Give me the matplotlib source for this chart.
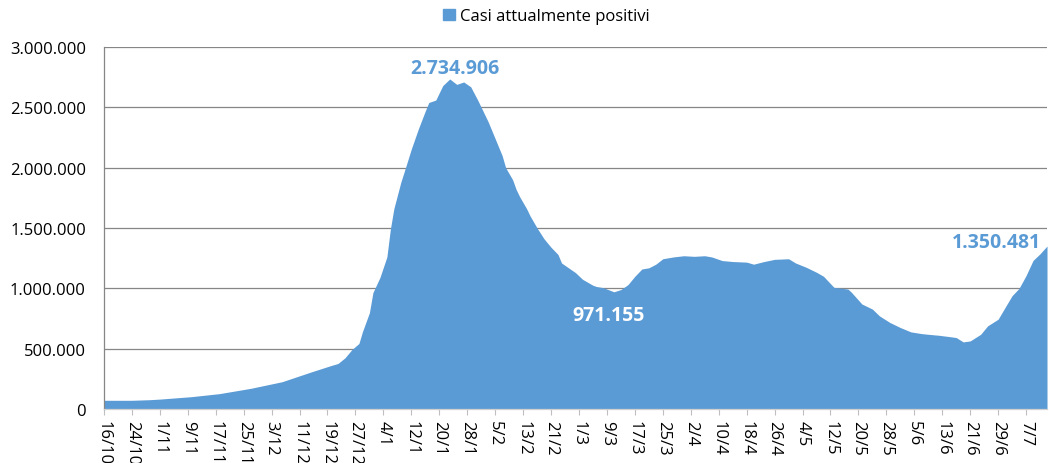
import matplotlib
matplotlib.use("Agg")
import matplotlib.pyplot as plt
from matplotlib.patches import Patch
from matplotlib.ticker import FuncFormatter
import pandas as pd

# casi attualmente positivi
date_lette = [
    "2021-10-16", "2021-10-24", "2021-10-29", "2021-11-01", "2021-11-10",
    "2021-11-18", "2021-11-27", "2021-12-06", "2021-12-14", "2021-12-20",
    "2021-12-22", "2021-12-24", "2021-12-26", "2021-12-28", "2021-12-29",
    "2021-12-31", "2022-01-01", "2022-01-03", "2022-01-05", "2022-01-06",
    "2022-01-07", "2022-01-09", "2022-01-10", "2022-01-12", "2022-01-14",
    "2022-01-16", "2022-01-17", "2022-01-19", "2022-01-21", "2022-01-23",
    "2022-01-25", "2022-01-27", "2022-01-29", "2022-01-31", "2022-02-03",
    "2022-02-05", "2022-02-07", "2022-02-08", "2022-02-10", "2022-02-11",
    "2022-02-12", "2022-02-14", "2022-02-15", "2022-02-17", "2022-02-19",
    "2022-02-21", "2022-02-23", "2022-02-24", "2022-02-26", "2022-02-28",
    "2022-03-02", "2022-03-05", "2022-03-06", "2022-03-08", "2022-03-11",
    "2022-03-13", "2022-03-15", "2022-03-17", "2022-03-19", "2022-03-21",
    "2022-03-23", "2022-03-25", "2022-03-28", "2022-03-31", "2022-04-03",
    "2022-04-06", "2022-04-08", "2022-04-11", "2022-04-14", "2022-04-18",
    "2022-04-20", "2022-04-23", "2022-04-26", "2022-04-30", "2022-05-02",
    "2022-05-05", "2022-05-08", "2022-05-10", "2022-05-13", "2022-05-17",
    "2022-05-18", "2022-05-21", "2022-05-24", "2022-05-26", "2022-05-29",
    "2022-06-01", "2022-06-04", "2022-06-07", "2022-06-09", "2022-06-12",
    "2022-06-15", "2022-06-17", "2022-06-19", "2022-06-21", "2022-06-24",
    "2022-06-26", "2022-06-29", "2022-07-01", "2022-07-03", "2022-07-05",
    "2022-07-07", "2022-07-09", "2022-07-11", "2022-07-13",
]
positivi = [
    72000, 72000, 77000, 82000, 102000,
    127000, 171000, 226000, 304000, 360000,
    377000, 424000, 493000, 543000, 640000,
    798000, 964000, 1089000, 1260000, 1490000,
    1660000, 1880000, 1970000, 2155000, 2320000,
    2470000, 2540000, 2560000, 2680000, 2734906,
    2690000, 2710000, 2670000, 2560000, 2380000,
    2240000, 2100000, 2000000, 1900000, 1820000,
    1760000, 1660000, 1600000, 1500000, 1410000,
    1340000, 1280000, 1210000, 1170000, 1130000,
    1075000, 1025000, 1015000, 1005000, 971155,
    990000, 1030000, 1100000, 1160000, 1170000,
    1200000, 1245000, 1260000, 1270000, 1265000,
    1270000, 1260000, 1230000, 1222000, 1217000,
    1200000, 1222000, 1240000, 1245000, 1210000,
    1175000, 1133000, 1100000, 1008000, 994000,
    967000, 870000, 828000, 772000, 717000,
    675000, 639000, 625000, 619000, 611000,
    600000, 592000, 556000, 564000, 619000,
    689000, 744000, 842000, 939000, 1000000,
    1106000, 1231000, 1286000, 1350481,
]

date = pd.to_datetime(date_lette)
tick_date = pd.date_range("2021-10-16", "2022-07-07", freq="8D")
tick_etichette = [f"{d.day}/{d.month}" for d in tick_date]

blu = "#5B9BD5"
grigio = "#868686"
font = "Open Sans"

fig = plt.figure(figsize=(10.49, 4.64), dpi=100)
ax = fig.add_axes([0.0991, 0.1164, 0.8990, 0.7802])

ax.fill_between(date, positivi, 0, color=blu, linewidth=0)

ax.set_xlim(date[0], date[-1])
ax.set_ylim(0, 3000000)
ax.set_yticks(range(0, 3000001, 500000))
ax.yaxis.set_major_formatter(FuncFormatter(lambda v, p: f"{int(v):,}".replace(",", ".")))
ax.set_xticks(tick_date)
ax.set_xticklabels(tick_etichette, rotation=-90, va="top", ha="center")

ax.grid(axis="y", color=grigio, linewidth=0.9)
ax.set_axisbelow(True)
for s in ["top", "right"]:
    ax.spines[s].set_visible(False)
ax.spines["left"].set_color(grigio)
ax.spines["left"].set_linewidth(0.9)
ax.spines["bottom"].set_color("#D0D0D0")
ax.spines["bottom"].set_linewidth(0.9)
ax.tick_params(axis="y", length=0, pad=13, labelsize=12, labelcolor="#000000")
ax.tick_params(axis="x", length=4, color="#BFBFBF", pad=4, labelsize=12, labelcolor="#000000")
for lab in ax.get_xticklabels() + ax.get_yticklabels():
    lab.set_fontfamily(font)

fmt = lambda v: f"{v:,}".replace(",", ".")

# etichette: massimo, minimo e ultimo valore
i_max = positivi.index(max(positivi))
ax.annotate(fmt(positivi[i_max]), (date[i_max], positivi[i_max]),
            xytext=(4, 8), textcoords="offset points", ha="center", va="center",
            fontsize=14, fontweight="bold", color=blu, fontfamily=font)

i_min = positivi.index(971155)
ax.annotate(fmt(positivi[i_min]), (date[i_min], positivi[i_min]),
            xytext=(-4, -17), textcoords="offset points", ha="center", va="center",
            fontsize=14, fontweight="bold", color="white", fontfamily=font)

ax.annotate(fmt(positivi[-1]), (date[-1], positivi[-1]),
            xytext=(-4, 3), textcoords="offset points", ha="right", va="center",
            fontsize=14, fontweight="bold", color=blu, fontfamily=font)

fig.legend(handles=[Patch(color=blu, label="Casi attualmente positivi")],
           loc="center", bbox_to_anchor=(0.521, 0.963), frameon=False,
           handlelength=0.7, handleheight=0.7, handletextpad=0.3,
           prop={"family": font, "size": 12})

fig.savefig("out.png", dpi=100)
